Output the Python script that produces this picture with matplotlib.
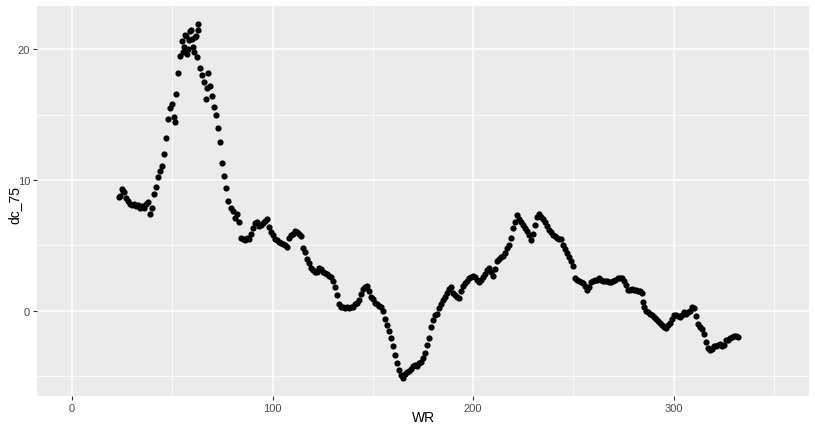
import matplotlib
matplotlib.use("Agg")
import matplotlib.pyplot as plt
from matplotlib.ticker import MultipleLocator

# values (one reading per WR unit)
WR = [24, 25, 26, 27, 28, 29, 30, 31, 32, 33,
      34, 35, 36, 37, 38, 39, 40, 41, 42, 43,
      44, 45, 46, 47, 48, 49, 50, 51, 52, 53,
      54, 55, 56, 57, 58, 59, 60, 61, 62, 63,
      64, 65, 66, 67, 68, 69, 70, 71, 72, 73,
      74, 75, 76, 77, 78, 79, 80, 81, 82, 83,
      84, 85, 86, 87, 88, 89, 90, 91, 92, 93,
      94, 95, 96, 97, 98, 99, 100, 101, 102, 103,
      104, 105, 106, 107, 108, 109, 110, 111, 112, 113,
      114, 115, 116, 117, 118, 119, 120, 121, 122, 123,
      124, 125, 126, 127, 128, 129, 130, 131, 132, 133,
      134, 135, 136, 137, 138, 139, 140, 141, 142, 143,
      144, 145, 146, 147, 148, 149, 150, 151, 152, 153,
      154, 155, 156, 157, 158, 159, 160, 161, 162, 163,
      164, 165, 166, 167, 168, 169, 170, 171, 172, 173,
      174, 175, 176, 177, 178, 179, 180, 181, 182, 183,
      184, 185, 186, 187, 188, 189, 190, 191, 192, 193,
      194, 195, 196, 197, 198, 199, 200, 201, 202, 203,
      204, 205, 206, 207, 208, 209, 210, 211, 212, 213,
      214, 215, 216, 217, 218, 219, 220, 221, 222, 223,
      224, 225, 226, 227, 228, 229, 230, 231, 232, 233,
      234, 235, 236, 237, 238, 239, 240, 241, 242, 243,
      244, 245, 246, 247, 248, 249, 250, 251, 252, 253,
      254, 255, 256, 257, 258, 259, 260, 261, 262, 263,
      264, 265, 266, 267, 268, 269, 270, 271, 272, 273,
      274, 275, 276, 277, 278, 279, 280, 281, 282, 283,
      284, 285, 286, 287, 288, 289, 290, 291, 292, 293,
      294, 295, 296, 297, 298, 299, 300, 301, 302, 303,
      304, 305, 306, 307, 308, 309, 310, 311, 312, 313,
      314, 315, 316, 317, 318, 319, 320, 321, 322, 323,
      324, 325, 326, 327, 328, 329, 330, 331, 332]

dc_75 = [8.8, 9.3, 9.1, 8.6, 8.4, 8.2, 8.1, 8.2, 8.0, 8.1,
         7.9, 8.0, 7.9, 8.2, 8.3, 7.4, 7.9, 8.9, 9.5, 10.2,
         10.7, 11.1, 12.0, 13.2, 14.7, 15.5, 15.8, 14.8, 16.6, 18.2,
         19.5, 20.6, 20.2, 21.0, 20.0, 21.4, 20.8, 19.8, 21.0, 21.9,
         18.6, 18.0, 17.5, 16.2, 18.2, 17.2, 16.4, 15.6, 15.0, 14.0,
         12.9, 11.3, 10.3, 9.4, 8.4, 7.9, 7.6, 7.1, 7.4, 6.8,
         5.6, 5.5, 5.4, 5.6, 5.5, 5.9, 6.3, 6.7, 6.8, 6.5,
         6.6, 6.7, 6.9, 7.0, 6.4, 6.0, 5.8, 5.5, 5.4, 5.3,
         5.2, 5.1, 5.0, 4.9, 5.6, 5.8, 5.9, 6.1, 6.0, 5.9,
         5.7, 4.8, 4.5, 4.0, 3.7, 3.3, 3.1, 3.0, 3.0, 3.3,
         3.2, 3.0, 2.9, 2.8, 2.7, 2.6, 2.3, 1.8, 1.2, 0.5,
         0.3, 0.3, 0.2, 0.3, 0.2, 0.3, 0.3, 0.5, 0.6, 0.8,
         1.3, 1.7, 1.8, 1.9, 1.5, 1.1, 0.9, 0.6, 0.5, 0.4,
         0.3, 0.0, -0.6, -1.1, -1.5, -2.1, -2.7, -3.4, -4.0, -4.5,
         -4.9, -5.1, -4.8, -4.7, -4.6, -4.4, -4.2, -4.1, -4.2, -4.0,
         -3.9, -3.6, -3.2, -2.6, -2.1, -1.2, -0.7, -0.3, -0.2, 0.2,
         0.5, 0.8, 1.1, 1.4, 1.7, 1.8, 1.4, 1.2, 1.1, 1.0,
         1.5, 1.9, 2.1, 2.3, 2.5, 2.6, 2.7, 2.6, 2.4, 2.2,
         2.4, 2.6, 2.8, 3.1, 3.3, 3.0, 2.7, 3.2, 3.8, 4.0,
         4.1, 4.2, 4.4, 4.8, 5.0, 5.6, 6.3, 6.8, 7.3, 7.0,
         6.8, 6.6, 6.3, 6.1, 5.8, 5.4, 5.9, 6.6, 7.2, 7.4,
         7.2, 7.0, 6.8, 6.5, 6.2, 6.0, 5.8, 5.7, 5.6, 5.5,
         5.5, 5.0, 4.7, 4.4, 4.1, 3.8, 3.4, 2.5, 2.4, 2.3,
         2.2, 2.1, 1.9, 1.6, 1.8, 2.2, 2.3, 2.4, 2.4, 2.5,
         2.4, 2.3, 2.3, 2.3, 2.2, 2.2, 2.3, 2.4, 2.5, 2.5,
         2.5, 2.3, 2.0, 1.6, 1.6, 1.7, 1.6, 1.6, 1.5, 1.5,
         1.4, 0.3, 0.0, -0.1, -0.2, -0.3, -0.5, -0.6, -0.8, -0.9,
         -1.1, -1.2, -1.3, -1.1, -0.9, -0.6, -0.3, -0.3, -0.4, -0.5,
         -0.3, -0.1, -0.2, -0.1, 0.0, 0.3, 0.2, -0.4, -1.0, -1.2,
         -1.4, -1.8, -2.4, -2.8, -3.0, -2.9, -2.7, -2.7, -2.6, -2.5,
         -2.7, -2.6, -2.2, -2.2, -2.1, -2.0, -1.9, -1.9, -2.0]

# extra overlapping readings around the peak and a few drops
WR_extra = [23.6, 25.5, 51.3, 55.5, 56.5, 57.5, 58.5, 59.5, 60.5, 61.5,
            62.5, 63.0, 67.5, 284.5]
dc_75_extra = [8.7, 9.2, 14.4, 19.8, 21.1, 19.6, 20.7, 21.5, 20.2, 20.9,
               19.4, 21.5, 17.0, 0.7]

plt.rcParams['font.family'] = ['Liberation Sans', 'DejaVu Sans']

fig = plt.figure(figsize=(8.15, 4.27), dpi=100)
ax = fig.add_axes([37 / 815, 30 / 427, 772 / 815, 390 / 427])
ax.set_facecolor('#EBEBEB')

ax.scatter(WR + WR_extra, dc_75 + dc_75_extra, s=20, c='black',
           linewidths=0, zorder=3)

ax.set_xlim(-17.5, 367.5)
ax.set_ylim(-6.5, 23.3)
ax.xaxis.set_major_locator(MultipleLocator(100))
ax.xaxis.set_minor_locator(MultipleLocator(50))
ax.yaxis.set_major_locator(MultipleLocator(10))
ax.yaxis.set_minor_locator(MultipleLocator(5))
ax.grid(which='major', color='white', linewidth=1.1)
ax.grid(which='minor', color='white', linewidth=0.55)
ax.set_axisbelow(True)
for s in ax.spines.values():
    s.set_visible(False)

ax.tick_params(which='major', length=3, width=0.8, color='#333333',
               labelcolor='#4D4D4D', labelsize=8, pad=2)
ax.tick_params(which='minor', length=0)

fig.text(424 / 815, 9 / 427, 'WR', fontsize=10, ha='center', va='center')
fig.text(14 / 815, 222 / 427, 'dc_75', fontsize=10, ha='center', va='center',
         rotation=90)

fig.savefig('out.png', dpi=100)
